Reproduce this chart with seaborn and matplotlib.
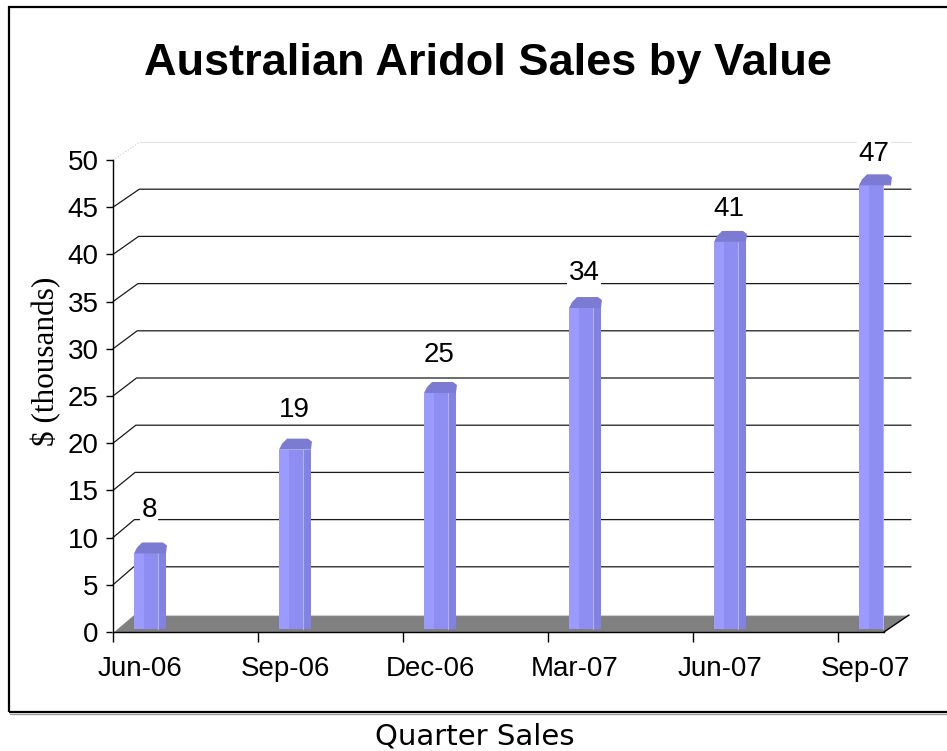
import matplotlib
matplotlib.use("Agg")
import matplotlib.pyplot as plt
import matplotlib.transforms as mtransforms
import pandas as pd
import seaborn as sns
from matplotlib.lines import Line2D
from matplotlib.patches import Polygon, Rectangle

# --- data ---
quarters = ["Jun-06", "Sep-06", "Dec-06", "Mar-07", "Jun-07", "Sep-07"]
sales = [8, 19, 25, 34, 41, 47]
y_ticks = [0, 5, 10, 15, 20, 25, 30, 35, 40, 45, 50]

title = "Australian Aridol Sales by Value"
y_label = "$ (thousands)"
x_label = "Quarter Sales"

# --- styling ---
W, H, DPI = 947, 751, 100
BAR_MID = "#8e8ef2"
BAR_LIGHT = "#9b9bff"
BAR_DARK = "#8282e0"
BAR_CAP = "#7b7bd4"
FLOOR = "#808080"

sns.set_style("white")
plt.rcParams["font.family"] = ["Liberation Sans", "DejaVu Sans"]
plt.rcParams["text.color"] = "black"

fig = plt.figure(figsize=(W / DPI, H / DPI), dpi=DPI, facecolor="white")


def fx(px):
    return px / W


def fy(py):
    # py measured from the top of the image
    return 1 - py / H


# axes = front plane of the 3D box
ax = fig.add_axes([fx(113), fy(632), fx(884) - fx(113), fy(160) - fy(632)])
ax.set_facecolor("none")

df = pd.DataFrame({"quarter": quarters, "sales": sales})
bar_w = 0.22
sns.barplot(
    data=df, x="quarter", y="sales", color=BAR_MID, saturation=1,
    width=bar_w, ax=ax, zorder=3, edgecolor="none",
)

cat_px = 145.0
x0 = (113 - 146) / cat_px
x1 = x0 + (884 - 113) / cat_px
ax.set_xlim(x0, x1)
ax.set_ylim(0, 50)

# bars sit a little behind the front plane
bar_shift = mtransforms.ScaledTranslation(4 / DPI, 3 / DPI, fig.dpi_scale_trans)
for p in ax.patches:
    p.set_transform(ax.transData + bar_shift)

# shading strips on each column
pos = list(range(len(quarters)))
left_strip = ax.bar([i - bar_w / 2 for i in pos], sales, width=bar_w * 0.32,
                    align="edge", color=BAR_LIGHT, zorder=4, linewidth=0)
right_strip = ax.bar([i + bar_w / 2 - bar_w * 0.26 for i in pos], sales,
                     width=bar_w * 0.26, align="edge", color=BAR_DARK,
                     zorder=4, linewidth=0)
for p in list(left_strip) + list(right_strip):
    p.set_transform(ax.transData + bar_shift)
for i, v in zip(pos, sales):
    xe = i + bar_w / 2 - bar_w * 0.26
    ax.add_line(Line2D([xe, xe], [0, v], color="#b0b0ff", lw=0.8, zorder=5,
                       transform=ax.transData + bar_shift))


def to_px(x, y):
    d = ax.transData.transform((x, y))
    return d[0], H - d[1]


def px_poly(points, **kw):
    ax.add_patch(Polygon([(fx(a), fy(b)) for a, b in points], closed=True,
                         transform=fig.transFigure, clip_on=False, **kw))


def px_line(xs, ys, **kw):
    ax.add_line(Line2D([fx(a) for a in xs], [fy(b) for b in ys],
                       transform=fig.transFigure, clip_on=False, **kw))


# column tops
for i, v in zip(pos, sales):
    lx, ty = to_px(i - bar_w / 2, v)
    rx, _ = to_px(i + bar_w / 2, v)
    lx, ty, rx = lx + 4, ty - 3, rx + 4
    px_poly([(lx, ty), (lx + 3, ty - 6), (lx + 8, ty - 11), (rx - 3, ty - 11),
             (rx + 1, ty - 8), (rx, ty)], facecolor=BAR_CAP, edgecolor="none",
            zorder=6)

# floor
fl_x, fl_y = to_px(x0, 0)
fr_x, _ = to_px(x1, 0)
px_poly([(fl_x, fl_y), (fr_x, fl_y), (fr_x + 25, fl_y - 17), (fl_x + 20, fl_y - 17)],
        facecolor=FLOOR, edgecolor="none", zorder=1)
px_line([fl_x, fl_x + 20], [fl_y, fl_y - 17], color="white", lw=1.2, zorder=1.5)
px_line([fl_x + 20, fr_x + 25], [fl_y - 17, fl_y - 17], color="#d0d0d0", lw=0.8, zorder=1.5)
px_line([fr_x, fr_x + 25], [fl_y, fl_y - 17], color="black", lw=1.0, zorder=1.5)

# back-wall gridlines with their depth stubs
right_px = 911
for v in y_ticks[1:]:
    gx, gy = to_px(x0, v)
    dx = 20 + 7 * v / 50
    if v == 50:
        px_line([gx, gx + dx], [gy, gy - 18], color="#cccccc", lw=0.8, ls=":", zorder=1)
        px_line([gx + dx, right_px], [gy - 18, gy - 18], color="#e2e2e2", lw=0.8, zorder=1)
    else:
        px_line([gx, gx + dx, right_px], [gy, gy - 18, gy - 18], color="#1a1a1a",
                lw=0.9, zorder=1)

# data labels
for i, v in zip(pos, sales):
    ax.annotate(str(v), xy=(i, v), xytext=(3 * 0.72, (49 - 0.31 * v) * 0.72),
                textcoords="offset points", ha="center", va="center",
                fontsize=20, color="black", zorder=7,
                bbox=dict(boxstyle="square,pad=0.05", fc="white", ec="none"))

# axes, ticks and labels
for side in ["top", "right"]:
    ax.spines[side].set_visible(False)
for side in ["left", "bottom"]:
    ax.spines[side].set_color("black")
    ax.spines[side].set_linewidth(1.0)
    ax.spines[side].set_zorder(2)

ax.set_yticks(y_ticks)
ax.tick_params(axis="y", left=True, length=5, width=1, color="black",
               pad=5.5, labelsize=20, labelcolor="black")
ax.set_xticks([x0 + k for k in range(len(quarters))], labels=[""] * len(quarters))
ax.set_xticks([i - 0.041 for i in pos], labels=quarters, minor=True)
ax.tick_params(axis="x", which="major", bottom=True, length=7.2, width=1,
               color="black")
ax.tick_params(axis="x", which="minor", bottom=True, length=0, pad=17,
               labelsize=20, labelcolor="black")
ax.set_xlabel("")
ax.set_ylabel("")
ax.grid(False)

fig.text(fx(488), fy(75), title, ha="center", va="baseline", fontsize=32.5,
         fontweight="bold", color="black")
fig.text(fx(46), fy(361), y_label, rotation=90, ha="center", va="center",
         fontsize=22.5, family=["Liberation Serif", "DejaVu Serif"],
         color="black", parse_math=False)
fig.text(fx(475), fy(736), x_label, ha="center", va="center", fontsize=21,
         family=["DejaVu Sans"], color="black")

# chart border
fig.add_artist(Rectangle((fx(9), fy(712)), fx(980) - fx(9), fy(7) - fy(712),
                         transform=fig.transFigure, fill=False, lw=1.6,
                         edgecolor="black"))
fig.add_artist(Line2D([fx(10), fx(947)], [fy(714), fy(714)], color="#9a9a9a",
                      lw=1.0, transform=fig.transFigure))

fig.savefig("out.png", dpi=DPI, facecolor="white")
